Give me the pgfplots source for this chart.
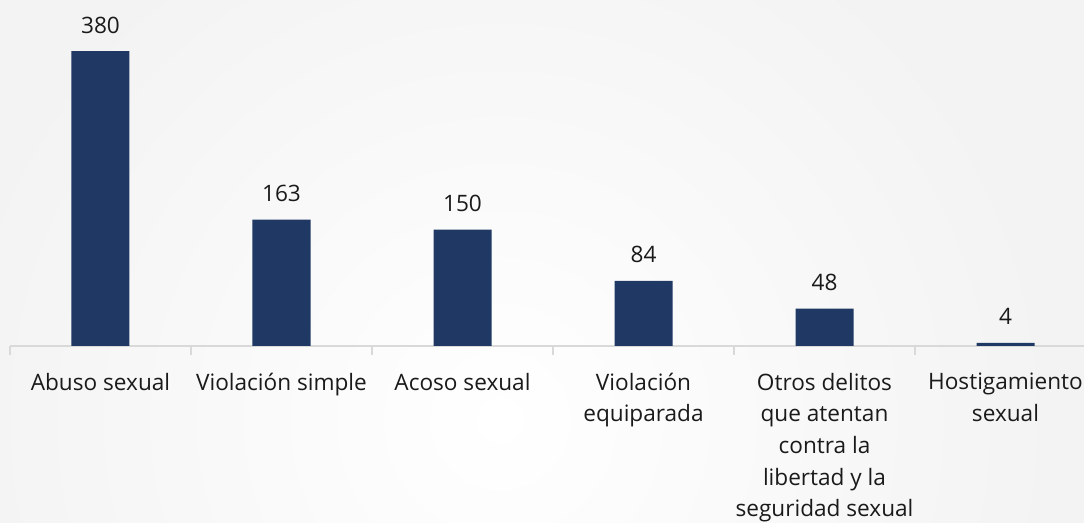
\documentclass[border=0pt]{standalone}
\usepackage{pgfplots}
\pgfplotsset{compat=1.18}
\usepackage{fontspec}
\setmainfont{Open Sans}
\definecolor{barblue}{HTML}{203864}
\definecolor{axgray}{HTML}{D9D9D9}
\definecolor{txt}{HTML}{1A1A1A}
\definecolor{bggray}{HTML}{F3F3F3}
\begin{document}
\begin{tikzpicture}
\fill[bggray] (-5pt,-88.5pt) rectangle (537pt,173pt);
\shade[inner color=white, outer color=bggray] (245pt,-37pt) circle (280pt);
\begin{axis}[
  at={(0,0)}, anchor=south west,
  scale only axis,
  width=543pt, height=155.2pt,
  xmin=-0.5, xmax=5.5,
  ymin=0, ymax=400,
  axis y line=none,
  axis x line*=bottom,
  x axis line style={draw=axgray, line width=0.75pt, -},
  xtick={0,1,2,3,4,5},
  xticklabels={Abuso sexual, Violación simple, Acoso sexual, Violación\\equiparada, Otros delitos\\que atentan\\contra la\\libertad y la\\seguridad sexual, Hostigamiento\\sexual},
  major tick length=0pt,
  minor xtick={-0.5,0.5,1.5,2.5,3.5,4.5,5.5},
  minor tick length=4.5pt,
  tick align=outside,
  minor tick style={draw=axgray, line width=0.75pt},
  xticklabel style={align=center, font=\fontsize{11.3}{15.8}\selectfont, text=txt, anchor=north, yshift=-10pt},
  /pgf/number format/assume math mode=true,
  ybar, bar width=29pt,
  nodes near coords,
  every node near coord/.append style={font=\fontsize{11.3}{16}\selectfont, text=txt, anchor=base, inner sep=0pt, yshift=9pt},
  clip=false,
]
\addplot[fill=barblue, draw=none] coordinates {(0,380) (1,163) (2,150) (3,84) (4,48) (5,4)};
\end{axis}
\pgfresetboundingbox
\useasboundingbox (-5pt,-88.5pt) rectangle (537pt,173pt);
\end{tikzpicture}
\end{document}
